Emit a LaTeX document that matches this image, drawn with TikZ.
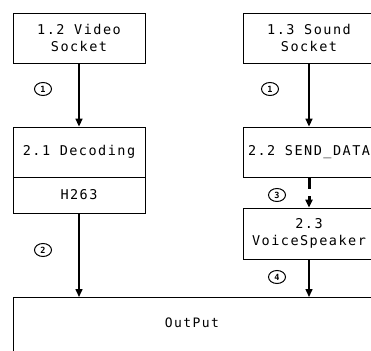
\documentclass[tikz,border=0pt]{standalone}
\usepackage{fontspec}
\setmainfont{DejaVu Sans Mono}[LetterSpace=11]
\usetikzlibrary{shapes.geometric,arrows.meta}
\tikzset{
    box/.style={draw, line width=0.8pt, minimum width=132pt, align=center,
        font=\fontsize{13.5}{17}\selectfont},
    flow/.style={line width=1.5pt, -{Triangle[length=8pt,width=7pt]}},
    circnum/.style={draw, ellipse, line width=1pt, minimum width=17pt,
        minimum height=13pt, inner sep=0pt, font=\fontsize{8.5}{8.5}\selectfont\bfseries}
}
\begin{document}
\begin{tikzpicture}[x=1pt,y=-1pt]
    \useasboundingbox (0,0) rectangle (371,350);
    \clip (0,0) rectangle (371,350);

    % Video path
    \node[box, minimum height=50pt] (video) at (79,38) {1.2 Video\\Socket};
    \node[box, minimum height=50pt] (dec) at (79,152) {2.1 Decoding};
    \node[box, minimum height=36pt] (h263) at (79,195) {H263};

    % Sound path
    \node[box, minimum height=50pt] (sound) at (309,38) {1.3 Sound\\Socket};
    \node[box, minimum height=50pt] (send) at (309,152) {2.2 SEND\_DATA};
    \node[box, minimum height=51pt] (voice) at (309,233.5) {2.3\\VoiceSpeaker};

    % Output
    \node[draw, line width=0.8pt, anchor=north west, minimum width=420pt,
        minimum height=80pt] (out) at (13,297) {};
    \node[font=\fontsize{13}{15}\selectfont] (outtxt) at (192,323) {OutPut};

    \draw[flow] (video) -- (dec);
    \draw[flow] (h263) -- (h263 |- out.north);
    \draw[flow] (sound) -- (send);
    \draw[flow, line width=3pt, dash pattern=on 12pt off 7pt] (send) -- (voice);
    \draw[flow] (voice) -- (voice |- out.north);

    % step numbers
    \node[circnum] (n1a) at (43,89) {1};
    \node[circnum] (n2) at (43,250) {2};
    \node[circnum] (n1b) at (270,89) {1};
    \node[circnum] (n3) at (277,195) {3};
    \node[circnum] (n4) at (277,277) {4};
\end{tikzpicture}
\end{document}
